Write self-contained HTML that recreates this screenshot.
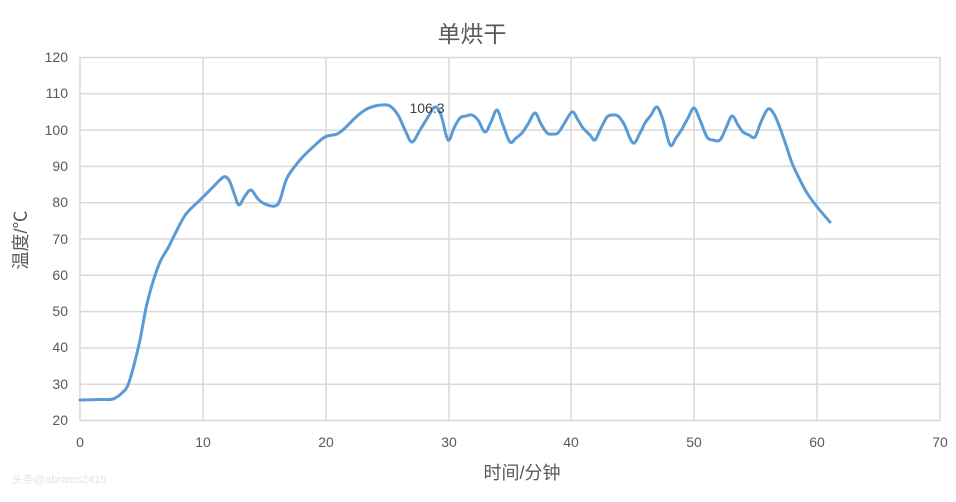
<!DOCTYPE html><html><head><meta charset="utf-8"><style>body{margin:0;background:#fff}svg text{font-family:"Liberation Sans","Noto Sans CJK SC",sans-serif;fill:#595959}</style></head><body>
<svg width="956" height="497" viewBox="0 0 956 497">
<rect width="956" height="497" fill="#fff"/>
<g stroke="#d9d9d9" stroke-width="1.5">
<line x1="80" y1="57.5" x2="940" y2="57.5"/><line x1="80" y1="93.8" x2="940" y2="93.8"/><line x1="80" y1="130.1" x2="940" y2="130.1"/><line x1="80" y1="166.4" x2="940" y2="166.4"/><line x1="80" y1="202.7" x2="940" y2="202.7"/><line x1="80" y1="239" x2="940" y2="239"/><line x1="80" y1="275.3" x2="940" y2="275.3"/><line x1="80" y1="311.6" x2="940" y2="311.6"/><line x1="80" y1="347.9" x2="940" y2="347.9"/><line x1="80" y1="384.2" x2="940" y2="384.2"/><line x1="80" y1="420.5" x2="940" y2="420.5"/>
<line x1="80" y1="57" x2="80" y2="421"/><line x1="203" y1="57" x2="203" y2="421"/><line x1="326" y1="57" x2="326" y2="421"/><line x1="449" y1="57" x2="449" y2="421"/><line x1="571" y1="57" x2="571" y2="421"/><line x1="694" y1="57" x2="694" y2="421"/><line x1="817" y1="57" x2="817" y2="421"/><line x1="940" y1="57" x2="940" y2="421"/>
</g>
<g font-size="14" text-anchor="end">
<text x="68" y="62">120</text><text x="68" y="98">110</text><text x="68" y="135">100</text><text x="68" y="171">90</text><text x="68" y="207">80</text><text x="68" y="244">70</text><text x="68" y="280">60</text><text x="68" y="316">50</text><text x="68" y="352">40</text><text x="68" y="389">30</text><text x="68" y="425">20</text>
</g>
<g font-size="14" text-anchor="middle">
<text x="80" y="447">0</text><text x="203" y="447">10</text><text x="326" y="447">20</text><text x="449" y="447">30</text><text x="571" y="447">40</text><text x="694" y="447">50</text><text x="817" y="447">60</text><text x="940" y="447">70</text>
</g>
<text x="472" y="42" font-size="23" text-anchor="middle">单烘干</text>
<text x="522" y="479" font-size="18" text-anchor="middle">时间/分钟</text>
<text transform="translate(27,240) rotate(-90)" font-size="18" text-anchor="middle">温度/℃</text>
<path id="ln" fill="none" stroke="#5b9bd5" stroke-width="3" stroke-linejoin="round" stroke-linecap="round" d=""/>
<text x="427" y="113" font-size="14" text-anchor="middle" style="fill:#404040">106.3</text>
<text x="12" y="483" font-size="11" style="fill:#e4e4e4">头条@abrams2415</text>
</svg>
<script>
var s="80,400 100,399.5 113,399 122,393 128,385 134,365 140,340 146,308 152,285 160,262 168,248 176,232 186,214 200,200 214,186 222,178 226,177 230,182 235,196 239,205 245,196 251,190 258,199 265,204 275,206 280,200 287,178 300,160 313,147 325,137 337,134 345,128 355,118 365,110 375,106 383,105 390,106 398,115 405,130 412,142 420,130 428,117 435,107 441,115 448,140 454,128 460,118 466,116 472,115 478,120 485,132 491,122 497,110 503,125 510,142 516,138 522,133 528,124 535,113 541,124 547,133 552,134 558,133 564,124 572,112 578,120 583,128 590,135 595,140 601,128 607,117 612,115 618,116 624,124 633,143 640,133 645,123 651,115 657,107 663,120 670,145 676,138 682,129 688,118 694,108 700,120 707,137 713,140 720,140 726,128 732,116 738,125 743,132 749,135 755,137 761,122 768,109 774,114 780,128 786,145 792,163 800,180 807,193 818,208 830,222";
var p=s.split(" ").map(function(t){return t.split(",").map(Number)});
var d="M"+p[0][0]+","+p[0][1];
for(var i=0;i<p.length-1;i++){var a=p[i-1]||p[i],b=p[i],c=p[i+1],e=p[i+2]||c;
d+=" C"+(b[0]+(c[0]-a[0])/6).toFixed(1)+","+(b[1]+(c[1]-a[1])/6).toFixed(1)+" "+(c[0]-(e[0]-b[0])/6).toFixed(1)+","+(c[1]-(e[1]-b[1])/6).toFixed(1)+" "+c[0]+","+c[1];}
document.getElementById("ln").setAttribute("d",d);
</script>
</body></html>
